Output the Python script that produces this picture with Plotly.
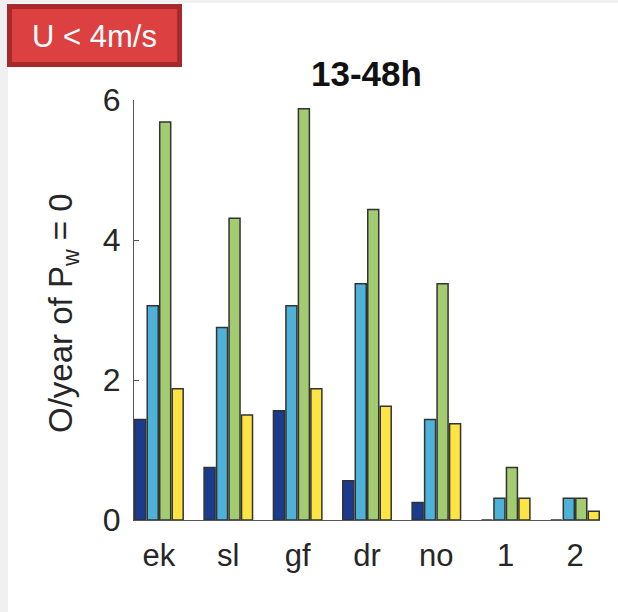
import plotly.graph_objects as go

# Occurrences per year (13-48 h lead time) for each category and series
categories = ["ek", "sl", "gf", "dr", "no", "1", "2"]
series_a = [1.4375, 0.75, 1.5625, 0.5625, 0.25, 0.0, 0.0]
series_b = [3.0625, 2.75, 3.0625, 3.375, 1.4375, 0.3125, 0.3125]
series_c = [5.6875, 4.3125, 5.875, 4.4375, 3.375, 0.75, 0.3125]
series_d = [1.875, 1.5, 1.875, 1.625, 1.375, 0.3125, 0.125]
y_ticks = [0, 2, 4, 6]

colors = ["#1a3b8e", "#4eb1d7", "#a3cb70", "#fbe443"]

W, H = 618, 612
L, R, T, B = 134, 18, 100, 92
PW, PH = W - L - R, H - T - B


def px(x):
    return (x - L) / PW


def py(y):
    return (H - B - y) / PH


fig = go.Figure()
for vals, col in zip([series_a, series_b, series_c, series_d], colors):
    fig.add_trace(go.Bar(
        x=categories, y=vals,
        marker=dict(color=col, line=dict(color="#333333", width=1.5)),
        showlegend=False,
    ))

font = "Liberation Sans, Arial, sans-serif"

fig.update_layout(
    width=W, height=H,
    margin=dict(l=L, r=R, t=T, b=B),
    paper_bgcolor="white", plot_bgcolor="white",
    barmode="group", bargap=0.28, bargroupgap=0.12,
    font=dict(family=font, color="#262626"),
    xaxis=dict(
        type="category", range=[-0.36, 6.36],
        showline=True, linecolor="#555555", linewidth=1,
        ticks="", showgrid=False, zeroline=False,
        tickfont=dict(size=31, color="#262626"),
        ticklabelstandoff=8,
    ),
    yaxis=dict(
        range=[0, 6], tickvals=y_ticks,
        showline=True, linecolor="#555555", linewidth=1,
        ticks="inside", ticklen=5, tickcolor="#555555",
        showgrid=False, zeroline=False,
        tickfont=dict(size=32, color="#262626"),
        ticklabelstandoff=6,
    ),
    shapes=[
        # light strips along the left and top edges
        dict(type="rect", xref="paper", yref="paper",
             x0=px(0), x1=px(8), y0=py(612), y1=py(0),
             fillcolor="#f0f0f0", line=dict(width=0), layer="below"),
        dict(type="rect", xref="paper", yref="paper",
             x0=px(8), x1=px(618), y0=py(3), y1=py(0),
             fillcolor="#f0f0f0", line=dict(width=0), layer="below"),
        # red badge
        dict(type="rect", xref="paper", yref="paper",
             x0=px(9.5), x1=px(179.5), y0=py(64.5), y1=py(6.5),
             fillcolor="#dc4040", line=dict(color="#a8292b", width=5)),
    ],
    annotations=[
        dict(text="U < 4m/s", xref="paper", yref="paper",
             x=px(94.5), y=py(36), showarrow=False,
             font=dict(size=31, color="white", family=font),
             xanchor="center", yanchor="middle"),
        dict(text="<b>13-48h</b>", xref="paper", yref="paper",
             x=px(366), y=py(73), showarrow=False,
             font=dict(size=35, color="#111111", family=font),
             xanchor="center", yanchor="middle"),
        dict(text="O/year of P<sub>w</sub> = 0", xref="paper", yref="paper",
             x=px(63), y=py(313), showarrow=False, textangle=-90,
             font=dict(size=33, color="#262626", family=font),
             xanchor="center", yanchor="middle"),
    ],
)

fig.write_html("out.html")
